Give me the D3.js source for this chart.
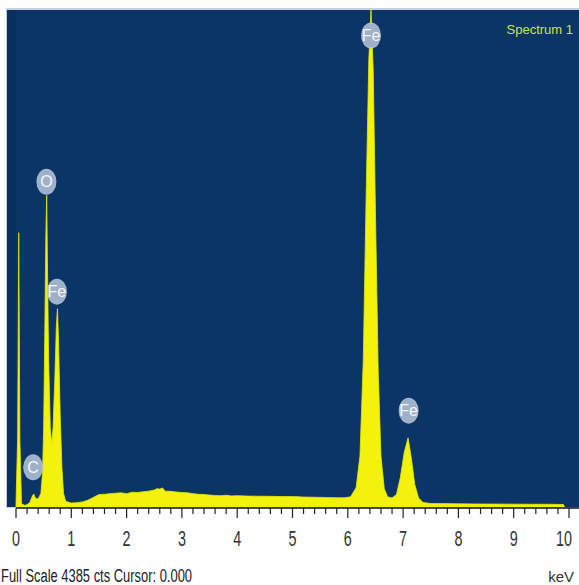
<!DOCTYPE html>
<html>
<head>
<meta charset="utf-8">
<script src="https://cdn.jsdelivr.net/npm/d3@7"></script>
<style>
  body { margin: 0; background: #ffffff; }
  svg { display: block; }
</style>
</head>
<body>
<div id="chart"></div>
<script>
// spectrum: energy (keV) and counts
const energy = [
  0.00, 0.03, 0.05, 0.07, 0.10, 0.15, 0.20, 0.25, 0.29, 0.32, 0.35, 0.40,
  0.45, 0.48, 0.50, 0.52, 0.54, 0.555, 0.57, 0.59, 0.62, 0.645, 0.67, 0.70,
  0.73, 0.75, 0.77, 0.80, 0.83, 0.86, 0.90, 1.00, 1.10, 1.20, 1.30, 1.40,
  1.50, 1.60, 1.70, 1.80, 1.90, 2.00, 2.10, 2.20, 2.30, 2.40, 2.50, 2.55,
  2.60, 2.65, 2.70, 2.80, 2.90, 3.00, 3.10, 3.20, 3.30, 3.40, 3.50, 3.60,
  3.70, 3.80, 3.90, 4.00, 4.20, 4.40, 4.60, 4.80, 5.00, 5.20, 5.40, 5.60,
  5.80, 5.95, 6.05, 6.15, 6.22, 6.28, 6.33, 6.38, 6.42, 6.46, 6.50, 6.55,
  6.60, 6.66, 6.72, 6.80, 6.88, 6.95, 7.02, 7.09, 7.15, 7.21, 7.28, 7.36,
  7.50, 7.70, 8.00, 8.30, 8.60, 9.00, 9.30, 9.60, 9.90, 9.92
];
const counts = [
  30, 600, 2420, 600, 30, 15, 20, 40, 90, 115, 80, 70,
  120, 300, 700, 1500, 2400, 2750, 2100, 1300, 700, 560, 700, 1100,
  1600, 1750, 1450, 800, 350, 120, 50, 35, 38, 45, 60, 85,
  110, 112, 118, 122, 125, 118, 130, 128, 135, 140, 150, 162,
  158, 168, 140, 138, 132, 128, 125, 118, 112, 110, 105, 102,
  100, 104, 98, 100, 96, 95, 94, 92, 92, 88, 86, 84,
  82, 82, 90, 170, 450, 1300, 2700, 3950, 4385, 3850, 2600, 1200,
  450, 160, 90, 80, 110, 260, 480, 610, 430, 200, 80, 40,
  30, 30, 28, 27, 26, 25, 24, 24, 22, 0
];

// element labels: name, energy, height (counts) of the label centre
const peakNames = ["Fe", "O", "Fe", "C", "Fe"];
const peakEnergy = [6.42, 0.55, 0.74, 0.31, 7.10];
const peakLabelCounts = [4160, 2870, 1900, 350, 850];

const xTicks = [0, 1, 2, 3, 4, 5, 6, 7, 8, 9, 10];
const fullScale = 4385;

const width = 579;
const height = 585;
const font = "'Liberation Sans Narrow', 'Liberation Sans', sans-serif";

const svg = d3.select("#chart")
  .append("svg")
  .attr("width", width)
  .attr("height", height);

const x = d3.scaleLinear().domain([0, 10]).range([16, 569]);
const y = d3.scaleLinear().domain([0, fullScale]).range([507, 10]);

// plot background
svg.append("rect")
  .attr("x", 6).attr("y", 8)
  .attr("width", width - 6).attr("height", 500)
  .attr("fill", "#c4d0e0");
svg.append("rect")
  .attr("x", 7).attr("y", 10)
  .attr("width", width - 7).attr("height", 497)
  .attr("fill", "#0a3566");
// slightly darker strip on the left
svg.append("rect")
  .attr("x", 7).attr("y", 10)
  .attr("width", 9).attr("height", 497)
  .attr("fill", "#08305e");

// the spectrum itself
const pts = energy.map((e, i) => [e, counts[i]]);
const area = d3.area()
  .x(d => x(d[0]))
  .y0(y(0))
  .y1(d => y(d[1]));

svg.append("path")
  .datum(pts)
  .attr("d", area)
  .attr("fill", "#f2f20c")
  .attr("stroke", "#e8e800")
  .attr("stroke-width", 0.8);

// peak labels (grey blobs)
const lab = svg.append("g");
peakNames.forEach((name, i) => {
  const cx = x(peakEnergy[i]);
  const cy = y(peakLabelCounts[i]);
  lab.append("ellipse")
    .attr("cx", cx).attr("cy", cy)
    .attr("rx", 10).attr("ry", 13)
    .attr("fill", "#b4c2d8")
    .attr("opacity", 0.9);
  lab.append("ellipse")
    .attr("cx", cx).attr("cy", cy)
    .attr("rx", 8.5).attr("ry", 11.5)
    .attr("fill", "#9fb0c9");
  lab.append("text")
    .attr("x", cx).attr("y", cy + 5.5)
    .attr("text-anchor", "middle")
    .attr("font-family", font)
    .attr("font-size", 16)
    .attr("fill", "#f4f6fa")
    .text(name);
});

// "Spectrum 1" title
svg.append("text")
  .attr("x", 573).attr("y", 34)
  .attr("text-anchor", "end")
  .attr("font-family", font)
  .attr("font-size", 13)
  .attr("fill", "#c6e83a")
  .text("Spectrum 1");

// x axis: major ticks every keV, minor every 0.2
const axisY = 508;
svg.append("line")
  .attr("x1", x(0)).attr("x2", width)
  .attr("y1", axisY).attr("y2", axisY)
  .attr("stroke", "#111").attr("stroke-width", 1.5);

const minor = d3.range(0, 10.001, 0.2);
svg.append("g").selectAll("line")
  .data(minor)
  .join("line")
  .attr("x1", d => x(d)).attr("x2", d => x(d))
  .attr("y1", axisY)
  .attr("y2", d => Math.abs(d - Math.round(d)) < 1e-6 ? axisY + 10 : axisY + 6)
  .attr("stroke", "#222").attr("stroke-width", 1.2);

svg.append("g").selectAll("text")
  .data(xTicks)
  .join("text")
  .attr("x", d => d === 10 ? x(d) - 5 : x(d))
  .attr("y", 546)
  .attr("text-anchor", "middle")
  .attr("font-family", font)
  .attr("font-size", 22)
  .attr("fill", "#333")
  .attr("textLength", d => String(d).length * 8)
  .attr("lengthAdjust", "spacingAndGlyphs")
  .text(d => d);

svg.append("text")
  .attr("x", 574).attr("y", 582)
  .attr("text-anchor", "end")
  .attr("font-family", font)
  .attr("font-size", 15)
  .attr("fill", "#333")
  .text("keV");

svg.append("text")
  .attr("x", 1).attr("y", 582)
  .attr("font-family", font)
  .attr("font-size", 18)
  .attr("fill", "#222")
  .attr("textLength", 191)
  .attr("lengthAdjust", "spacingAndGlyphs")
  .text("Full Scale " + fullScale + " cts Cursor: 0.000");
</script>
</body>
</html>
